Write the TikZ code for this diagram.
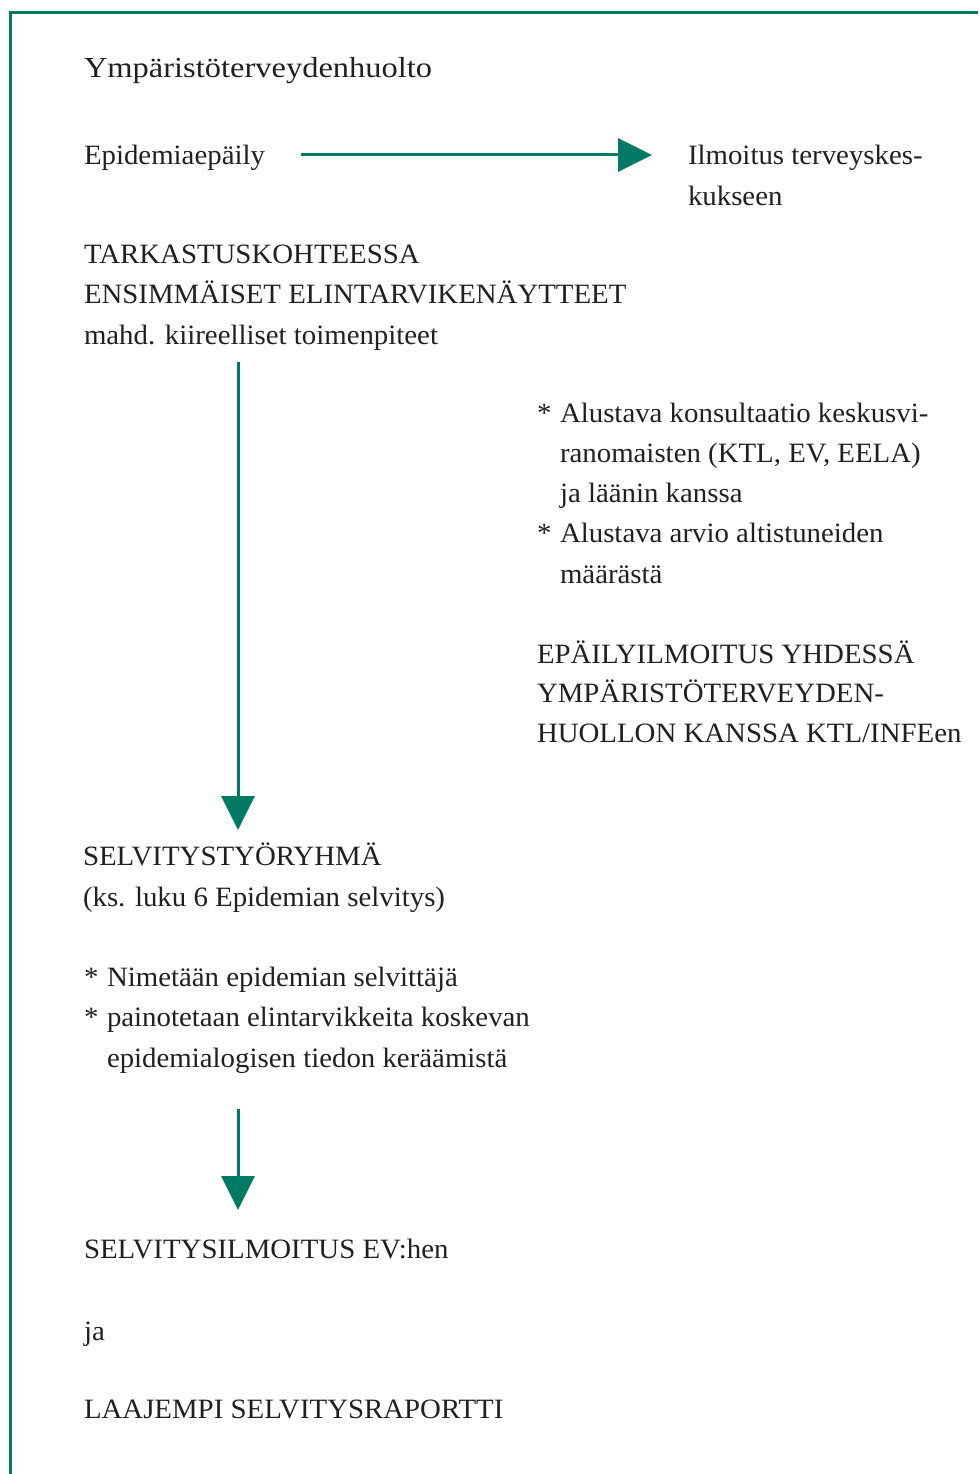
\documentclass[tikz,border=0pt]{standalone}
\usepackage{fontspec}
\setmainfont[FakeStretch=1.03]{Liberation Serif}
\newfontfamily\titlefont[FakeStretch=1.12]{Liberation Serif}
\usetikzlibrary{arrows.meta}
\definecolor{frgreen}{RGB}{0,122,100}
\definecolor{txt}{RGB}{35,31,32}
\tikzset{
  lbl/.style={anchor=base west, inner sep=0pt, outer sep=0pt, text=txt, font=\fontsize{28}{40}\selectfont},
  ttl/.style={anchor=base west, inner sep=0pt, outer sep=0pt, text=txt, font=\titlefont\fontsize{29}{40}\selectfont},
  flow/.style={draw=frgreen, line width=3pt, -{Triangle[length=34pt,width=33pt]}},
  frame/.style={draw=frgreen, line width=3pt}
}
\begin{document}
\begin{tikzpicture}[x=1pt,y=-1pt]
\useasboundingbox (0,0) rectangle (978,1474);
\draw[frame] (10,1474) -- (10,13) -- (978,13);

\node[ttl] (title) at (84,78) {Ympäristöterveydenhuolto};

\node[lbl] (epi) at (84,165) {Epidemiaepäily};
\node[lbl] (ilm1) at (688,165) {Ilmoitus terveyskes-};
\node[lbl] (ilm2) at (688,205) {kukseen};

\node[lbl] (tark1) at (84,263) {TARKASTUSKOHTEESSA};
\node[lbl] (tark2) at (84,303) {ENSIMMÄISET ELINTARVIKENÄYTTEET};
\node[lbl] (tark3) at (84,344) {mahd. kiireelliset toimenpiteet};

\node[lbl] (b1s) at (537,422) {*};
\node[lbl] (b1a) at (560,422) {Alustava konsultaatio keskusvi-};
\node[lbl] (b1b) at (560,462) {ranomaisten (KTL, EV, EELA)};
\node[lbl] (b1c) at (560,502) {ja läänin kanssa};
\node[lbl] (b2s) at (537,542) {*};
\node[lbl] (b2a) at (560,542) {Alustava arvio altistuneiden};
\node[lbl] (b2b) at (560,583) {määrästä};

\node[lbl] (ep1) at (537,663) {EPÄILYILMOITUS YHDESSÄ};
\node[lbl] (ep2) at (537,702) {YMPÄRISTÖTERVEYDEN-};
\node[lbl] (ep3) at (537,742) {HUOLLON KANSSA KTL/INFEen};

\node[lbl] (sel1) at (83,865) {SELVITYSTYÖRYHMÄ};
\node[lbl] (sel2) at (83,906) {(ks. luku 6 Epidemian selvitys)};

\node[lbl] (c1s) at (84,986) {*};
\node[lbl] (c1a) at (107,986) {Nimetään epidemian selvittäjä};
\node[lbl] (c2s) at (84,1026) {*};
\node[lbl] (c2a) at (107,1026) {painotetaan elintarvikkeita koskevan};
\node[lbl] (c2b) at (107,1067) {epidemialogisen tiedon keräämistä};

\node[lbl] (rep1) at (84,1258) {SELVITYSILMOITUS EV:hen};
\node[lbl] (ja) at (84,1340) {ja};
\node[lbl] (rep2) at (84,1418) {LAAJEMPI SELVITYSRAPORTTI};

% arrows
\coordinate (h1) at (301,155);
\coordinate (h2) at (652,155);
\draw[flow] (h1) -- (h2);

\coordinate (v1) at (238,362);
\coordinate (v2) at (238,830);
\draw[flow] (v1) -- (v2);

\coordinate (w1) at (238,1109);
\coordinate (w2) at (238,1210);
\draw[flow] (w1) -- (w2);
\end{tikzpicture}
\end{document}
